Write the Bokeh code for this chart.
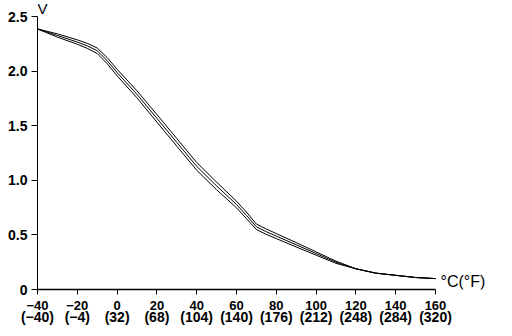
from bokeh.plotting import figure
from bokeh.models import Range1d, LinearAxis, FixedTicker, Label
from bokeh.embed import file_html
from bokeh.resources import INLINE

# ---- data ----
temps_c = [-40, -30, -20, -15, -10, -5, 0, 10, 20, 30, 40, 50, 60, 65, 70, 75, 80, 90, 100, 110, 120, 130, 140, 150, 160]
v_mid   = [2.39, 2.33, 2.27, 2.235, 2.19, 2.10, 1.99, 1.79, 1.57, 1.35, 1.13, 0.95, 0.78, 0.68, 0.575, 0.53, 0.49, 0.41, 0.33, 0.25, 0.19, 0.15, 0.13, 0.11, 0.10]
v_upper = [2.39, 2.345, 2.29, 2.258, 2.215, 2.128, 2.02, 1.822, 1.605, 1.385, 1.165, 0.985, 0.81, 0.71, 0.60, 0.555, 0.513, 0.43, 0.345, 0.26, 0.19, 0.15, 0.13, 0.11, 0.10]
v_lower = [2.39, 2.315, 2.25, 2.212, 2.165, 2.072, 1.96, 1.758, 1.535, 1.315, 1.095, 0.915, 0.75, 0.65, 0.55, 0.505, 0.467, 0.39, 0.315, 0.24, 0.19, 0.15, 0.13, 0.11, 0.10]

x_ticks = [-40, -20, 0, 20, 40, 60, 80, 100, 120, 140, 160]
x_labels_c = ["\u221240", "\u221220", "0", "20", "40", "60", "80", "100", "120", "140", "160"]
x_labels_f = ["(\u221240)", "(\u22124)", "(32)", "(68)", "(104)", "(140)", "(176)", "(212)", "(248)", "(284)", "(320)"]
y_ticks = [0, 0.5, 1.0, 1.5, 2.0, 2.5]
y_labels = ["0", "0.5", "1.0", "1.5", "2.0", "2.5"]
y_axis_label = "V"
x_axis_label = "\u00b0C(\u00b0F)"

FONT = "Liberation Sans"
Y_TOP = 2.651
X_END = 198.7

p = figure(width=512, height=336, output_backend="svg", toolbar_location=None,
           x_range=Range1d(-40, X_END), y_range=Range1d(0, Y_TOP),
           x_axis_location=None, y_axis_location=None)
p.min_border_left = 37
p.min_border_right = 0
p.min_border_top = 0
p.min_border_bottom = 47
p.outline_line_color = None
p.xgrid.visible = False
p.ygrid.visible = False
p.background_fill_color = "white"
p.border_fill_color = "white"

for ys in (v_upper, v_mid, v_lower):
    p.line(temps_c, ys, line_color="black", line_width=1)

# y axis
yax = LinearAxis(ticker=FixedTicker(ticks=y_ticks), bounds=(0, 2.5))
yax.major_label_overrides = {t: l for t, l in zip(y_ticks, y_labels)}
yax.major_tick_out = 6
yax.major_tick_in = 0
yax.minor_tick_line_color = None
yax.major_label_standoff = 4
yax.major_label_text_font = FONT
yax.major_label_text_font_style = "bold"
yax.major_label_text_font_size = "14px"
yax.major_label_text_color = "black"
yax.axis_line_color = "black"
yax.major_tick_line_color = "black"
p.add_layout(yax, "left")

# x axis (Celsius)
xax = LinearAxis(ticker=FixedTicker(ticks=x_ticks), bounds=(-40, 160))
xax.major_label_overrides = {t: l for t, l in zip(x_ticks, x_labels_c)}
xax.major_tick_out = 5
xax.major_tick_in = 0
xax.minor_tick_line_color = None
xax.major_label_standoff = 6
xax.major_label_text_font = FONT
xax.major_label_text_font_style = "bold"
xax.major_label_text_font_size = "13px"
xax.major_label_text_color = "black"
xax.axis_line_color = "black"
xax.axis_line_width = 1.5
p.add_layout(xax, "below")

# x axis (Fahrenheit row)
fax = LinearAxis(ticker=FixedTicker(ticks=x_ticks), bounds=(-40, 160))
fax.major_label_overrides = {t: l for t, l in zip(x_ticks, x_labels_f)}
fax.major_tick_out = 0
fax.major_tick_in = 0
fax.major_tick_line_color = None
fax.minor_tick_line_color = None
fax.axis_line_color = None
fax.major_label_standoff = -4
fax.major_label_text_font = FONT
fax.major_label_text_font_style = "bold"
fax.major_label_text_font_size = "14px"
fax.major_label_text_color = "black"
p.add_layout(fax, "below")

# axis titles
p.add_layout(Label(x=-40, y=Y_TOP, x_offset=0, y_offset=1, text=y_axis_label,
                   text_font=FONT, text_font_size="15px", text_baseline="top",
                   text_align="left", text_color="black"))
p.add_layout(Label(x=160, y=0.10, x_offset=5, y_offset=-3, text=x_axis_label,
                   text_font=FONT, text_font_size="16px", text_baseline="middle",
                   text_align="left", text_color="black"))

open("out.html", "w").write(file_html(p, INLINE))
